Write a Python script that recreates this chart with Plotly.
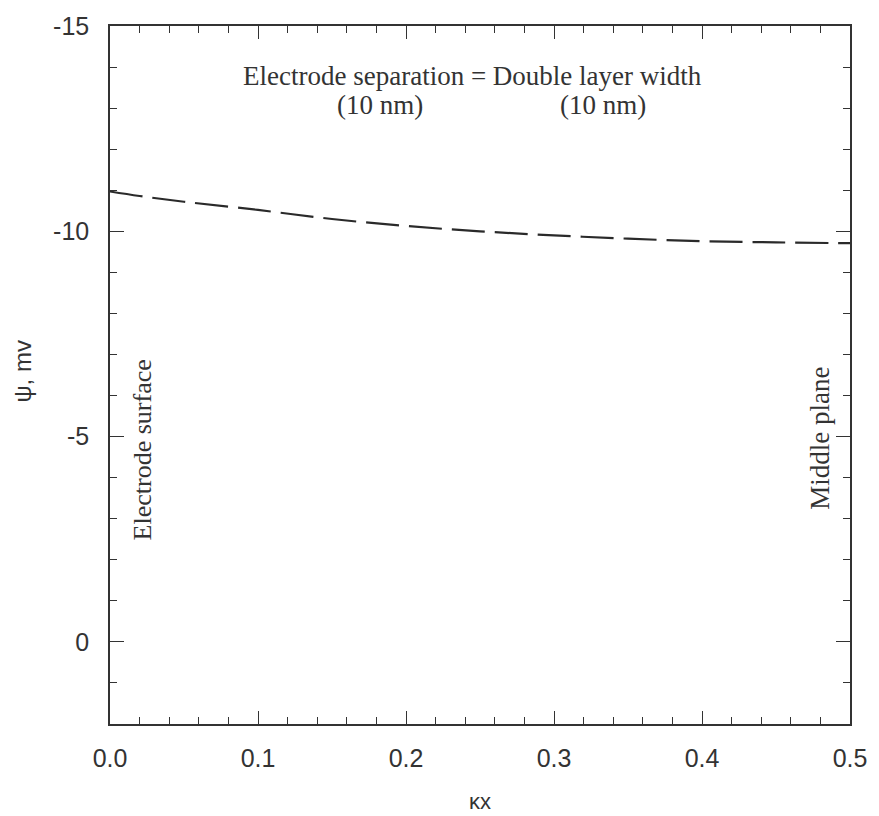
import plotly.graph_objects as go

kx = [0.0, 0.02, 0.05, 0.1, 0.15, 0.2, 0.25, 0.3, 0.35, 0.4, 0.45, 0.5]
psi = [-10.97, -10.86, -10.72, -10.52, -10.30, -10.13, -10.00, -9.90, -9.82, -9.76, -9.73, -9.71]

x_ticks = [0.0, 0.1, 0.2, 0.3, 0.4, 0.5]
x_ticklabels = ["0.0", "0.1", "0.2", "0.3", "0.4", "0.5"]
y_ticks = [-15, -10, -5, 0]
y_ticklabels = ["-15", "-10", "-5", "0"]

serif = "Liberation Serif, Times New Roman, serif"
sans = "Liberation Sans, Arial, sans-serif"
ink = "#333333"

fig = go.Figure()
fig.add_trace(go.Scatter(
    x=kx, y=psi, mode="lines",
    line=dict(color="#2a2a2a", width=2.2, dash="33px,10px", shape="spline"),
    showlegend=False, hoverinfo="skip"))

fig.update_layout(
    width=879, height=816,
    margin=dict(l=110, r=25, t=22, b=92),
    paper_bgcolor="white", plot_bgcolor="white",
    font=dict(family=sans, size=24, color=ink),
    xaxis=dict(range=[0, 0.5], tickvals=x_ticks, ticktext=x_ticklabels,
               ticks="inside", ticklen=13, tickwidth=1.2, tickcolor=ink,
               minor=dict(dtick=0.02, ticks="inside", ticklen=7, tickwidth=1, tickcolor=ink),
               showline=True, linecolor=ink, linewidth=1.5, mirror="allticks",
               showgrid=False, zeroline=False, ticklabelstandoff=11,
               tickfont=dict(family=sans, size=25, color=ink)),
    yaxis=dict(range=[2, -15], tickvals=y_ticks, ticktext=y_ticklabels,
               ticks="inside", ticklen=14, tickwidth=1.2, tickcolor=ink,
               minor=dict(dtick=1, tick0=0, ticks="inside", ticklen=7, tickwidth=1, tickcolor=ink),
               showline=True, linecolor=ink, linewidth=1.5, mirror="allticks",
               showgrid=False, zeroline=False, ticklabelstandoff=14,
               tickfont=dict(family=sans, size=25, color=ink)),
)

annots = [
    dict(text="Electrode separation = Double layer width", x=474, y=72, font=dict(family=serif, size=27, color=ink), textangle=0),
    dict(text="(10 nm)", x=381, y=101, font=dict(family=serif, size=27, color=ink), textangle=0),
    dict(text="(10 nm)", x=606, y=101, font=dict(family=serif, size=27, color=ink), textangle=0),
    dict(text="Electrode surface", x=143, y=448, font=dict(family=serif, size=26, color=ink), textangle=-90),
    dict(text="Middle plane", x=823, y=437, font=dict(family=serif, size=27, color=ink), textangle=-90),
    dict(text="ψ, mv", x=22, y=369, font=dict(family=sans, size=24, color=ink), textangle=-90),
    dict(text="κx", x=482, y=802, font=dict(family=sans, size=22, color=ink), textangle=0),
]
for a in annots:
    fig.add_annotation(text=a["text"], xref="paper", yref="paper",
                       x=(a["x"] - 110) / (879 - 110 - 25),
                       y=1 - (a["y"] - 22) / (816 - 22 - 92),
                       xanchor="center", yanchor="middle", showarrow=False,
                       font=a["font"], textangle=a["textangle"])

fig.write_html("out.html")
